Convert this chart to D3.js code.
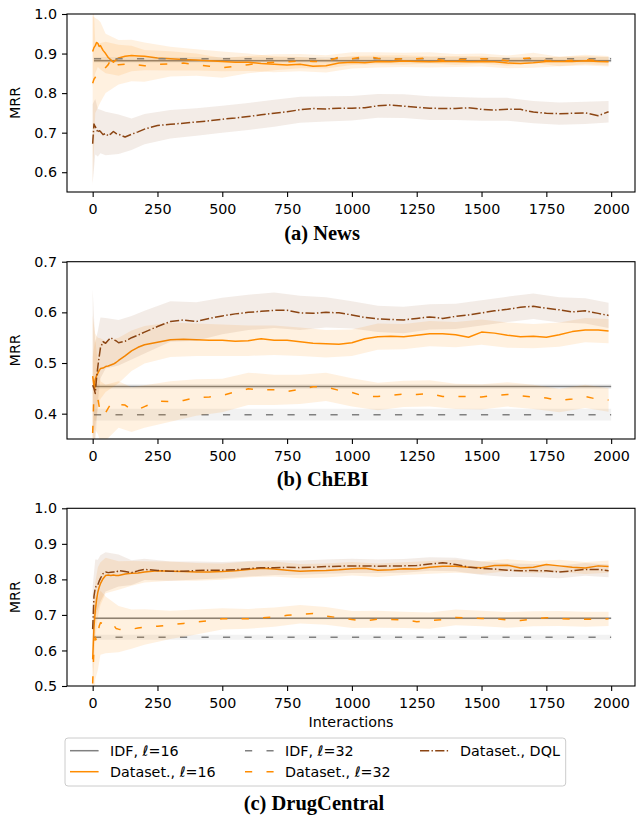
<!DOCTYPE html>
<html><head><meta charset="utf-8">
<script src="https://cdn.jsdelivr.net/npm/d3@7"></script>
<style>html,body{margin:0;padding:0;background:#fff;} svg{display:block;}</style>
</head><body>
<svg id="chart" width="637" height="818"></svg>
<script>
// ---------- DATA ----------
const interactions = [0,5,10,15,20,25,30,40,50,60,
  70,80,90,100,125,150,175,200,250,300,
  350,400,450,500,550,600,650,700,750,800,
  850,900,950,1000,1050,1100,1150,1200,1250,1300,
  1350,1400,1450,1500,1550,1600,1650,1700,1750,1800,
  1850,1900,1950,1990];
const bandInteractions = [0,10,20,30,50,100,150,200,300,400,
  500,600,700,800,900,1000,1100,1200,1300,1400,
  1500,1600,1700,1800,1900,1990];
const idfRange = [5, 2000];
const xTicks = [0,250,500,750,1000,1250,1500,1750,2000];
const newsTicks = [0.6,0.7,0.8,0.9,1.0];
const chebiTicks = [0.4,0.5,0.6,0.7];
const drugTicks = [0.5,0.6,0.7,0.8,0.9,1.0];
const captions = ["(a) News", "(b) ChEBI", "(c) DrugCentral"];
const legendLabels = ["IDF, ℓ=16", "Dataset., ℓ=16", "IDF, ℓ=32", "Dataset., ℓ=32", "Dataset., DQL"];

// News
const newsIdf = [0.8815, 0.887];          // l=16, l=32
const newsIdfSpread = [0.004, 0.004];
const newsDs16 = [0.905,0.915,0.920,0.928,0.926,0.918,0.920,0.908,0.900,0.890,
  0.884,0.878,0.884,0.889,0.893,0.895,0.894,0.893,0.889,0.887,
  0.885,0.884,0.882,0.880,0.878,0.878,0.875,0.873,0.871,0.873,
  0.868,0.869,0.876,0.878,0.877,0.880,0.879,0.881,0.880,0.879,
  0.880,0.880,0.879,0.880,0.879,0.876,0.875,0.877,0.880,0.880,
  0.880,0.882,0.880,0.879];
const newsDs32 = [0.825,0.835,0.840,0.845,0.843,0.850,0.852,0.857,0.865,0.872,
  0.885,0.870,0.868,0.872,0.873,0.875,0.871,0.869,0.873,0.874,
  0.876,0.872,0.868,0.864,0.868,0.872,0.876,0.878,0.879,0.881,
  0.880,0.879,0.891,0.887,0.893,0.888,0.885,0.887,0.887,0.889,
  0.883,0.885,0.885,0.887,0.886,0.882,0.887,0.889,0.882,0.880,
  0.883,0.885,0.882,0.882];
const newsDql = [0.672,0.722,0.715,0.710,0.700,0.705,0.703,0.695,0.698,0.692,
  0.697,0.703,0.698,0.696,0.689,0.696,0.702,0.709,0.718,0.721,
  0.724,0.727,0.730,0.734,0.737,0.741,0.745,0.749,0.753,0.758,
  0.761,0.760,0.762,0.762,0.763,0.768,0.770,0.767,0.764,0.762,
  0.761,0.761,0.763,0.759,0.757,0.759,0.759,0.752,0.749,0.748,
  0.749,0.750,0.743,0.753];
const newsDs16Spread = [0.09,0.07,0.06,0.06,0.05,0.045,0.04,0.035,0.03,0.027,
  0.025,0.022,0.02,0.018,0.017,0.016,0.015,0.015,0.014,0.014,
  0.013,0.013,0.013,0.012,0.012,0.012];
const newsDs32Spread = [0.26,0.09,0.08,0.075,0.065,0.05,0.045,0.04,0.032,0.028,
  0.025,0.022,0.02,0.018,0.017,0.016,0.015,0.015,0.014,0.014,
  0.013,0.013,0.013,0.012,0.012,0.012];
const newsDqlSpread = [0.1,0.07,0.06,0.055,0.055,0.05,0.04,0.038,0.036,0.035,
  0.034,0.034,0.034,0.033,0.032,0.031,0.03,0.03,0.03,0.029,
  0.029,0.029,0.028,0.028,0.028,0.027];

// ChEBI
const chebiIdf = [0.4535, 0.398];
const chebiIdfSpread = [0.005, 0.0115];
const chebiDs16 = [0.474,0.455,0.468,0.475,0.480,0.485,0.489,0.490,0.493,0.494,
  0.496,0.498,0.501,0.505,0.514,0.524,0.531,0.536,0.541,0.546,
  0.547,0.546,0.545,0.545,0.543,0.544,0.548,0.545,0.545,0.542,
  0.539,0.538,0.537,0.540,0.548,0.552,0.553,0.552,0.555,0.558,
  0.558,0.556,0.551,0.561,0.559,0.555,0.552,0.553,0.551,0.556,
  0.562,0.565,0.565,0.563];
const chebiDs32 = [0.362,0.440,0.458,0.445,0.430,0.415,0.404,0.396,0.402,0.411,
  0.419,0.420,0.415,0.418,0.417,0.408,0.408,0.414,0.425,0.424,
  0.426,0.432,0.433,0.436,0.443,0.449,0.447,0.447,0.444,0.448,
  0.453,0.453,0.446,0.442,0.434,0.434,0.436,0.439,0.438,0.440,
  0.434,0.434,0.434,0.433,0.436,0.438,0.435,0.433,0.431,0.426,
  0.429,0.434,0.428,0.427];
const chebiDql = [0.456,0.450,0.440,0.470,0.493,0.512,0.530,0.542,0.539,0.545,
  0.550,0.546,0.544,0.540,0.543,0.550,0.555,0.561,0.572,0.582,
  0.585,0.582,0.588,0.593,0.597,0.600,0.602,0.604,0.604,0.599,
  0.598,0.600,0.599,0.595,0.590,0.587,0.586,0.585,0.588,0.591,
  0.588,0.592,0.595,0.599,0.603,0.606,0.610,0.612,0.608,0.605,
  0.601,0.603,0.598,0.594];
const chebiDs16Spread = [0.12,0.09,0.07,0.06,0.05,0.045,0.04,0.037,0.034,0.032,
  0.031,0.03,0.029,0.028,0.027,0.026,0.026,0.025,0.025,0.025,
  0.025,0.025,0.024,0.024,0.024,0.024];
const chebiDs32Spread = [0.15,0.09,0.07,0.06,0.055,0.046,0.044,0.042,0.04,0.036,
  0.033,0.032,0.03,0.029,0.028,0.028,0.027,0.026,0.026,0.025,
  0.025,0.024,0.024,0.023,0.023,0.023];
const chebiDqlSpread = [0.19,0.1,0.07,0.06,0.05,0.045,0.043,0.042,0.04,0.038,
  0.036,0.035,0.035,0.034,0.03,0.027,0.026,0.026,0.025,0.025,
  0.025,0.025,0.025,0.025,0.025,0.025];

// DrugCentral
const drugIdf = [0.6904, 0.637];
const drugIdfSpread = [0.003, 0.007];
const drugDs16 = [0.575,0.665,0.712,0.742,0.764,0.778,0.788,0.802,0.811,0.812,
  0.811,0.812,0.811,0.811,0.815,0.817,0.818,0.821,0.824,0.823,
  0.822,0.821,0.821,0.822,0.824,0.828,0.831,0.829,0.826,0.823,
  0.824,0.825,0.827,0.830,0.831,0.826,0.827,0.830,0.829,0.834,
  0.837,0.837,0.834,0.833,0.839,0.840,0.832,0.834,0.842,0.838,
  0.834,0.832,0.838,0.836];
const drugDs32 = [0.507,0.611,0.638,0.626,0.645,0.668,0.678,0.676,0.672,0.675,
  0.676,0.672,0.662,0.660,0.657,0.660,0.663,0.666,0.668,0.672,
  0.676,0.680,0.684,0.689,0.689,0.689,0.692,0.694,0.699,0.702,
  0.704,0.697,0.692,0.687,0.683,0.688,0.687,0.686,0.681,0.684,
  0.687,0.693,0.691,0.690,0.690,0.686,0.684,0.689,0.692,0.690,
  0.688,0.688,0.688,0.689];
const drugDql = [0.660,0.752,0.776,0.782,0.785,0.795,0.803,0.816,0.821,0.819,
  0.820,0.821,0.820,0.825,0.822,0.819,0.824,0.828,0.825,0.823,
  0.823,0.825,0.826,0.826,0.827,0.830,0.833,0.833,0.834,0.833,
  0.834,0.836,0.837,0.838,0.838,0.837,0.838,0.838,0.839,0.843,
  0.847,0.842,0.835,0.831,0.829,0.826,0.824,0.825,0.824,0.821,
  0.824,0.828,0.828,0.824];
const drugDs16Spread = [0.1,0.08,0.07,0.06,0.05,0.04,0.035,0.03,0.027,0.025,
  0.023,0.022,0.021,0.02,0.02,0.019,0.019,0.018,0.018,0.018,
  0.018,0.017,0.017,0.017,0.017,0.017];
const drugDs32Spread = [0.15,0.12,0.1,0.09,0.08,0.065,0.055,0.05,0.04,0.035,
  0.03,0.028,0.027,0.026,0.025,0.024,0.024,0.023,0.023,0.022,
  0.022,0.022,0.021,0.021,0.021,0.02];
const drugDqlSpread = [0.12,0.08,0.07,0.065,0.055,0.045,0.035,0.03,0.027,0.025,
  0.023,0.022,0.021,0.02,0.02,0.02,0.019,0.019,0.019,0.019,
  0.019,0.019,0.018,0.018,0.018,0.018];

// ---------- STYLE / LAYOUT ----------
const FONT = "'DejaVu Sans', sans-serif";
const FS = 14.3;
const styles = {
  idf16: {color: "#808080", dash: null, fillOp: 0.1},
  ds16:  {color: "#ff8c00", dash: null, fillOp: 0.12},
  idf32: {color: "#808080", dash: "7.2,14.3", fillOp: 0.1},
  ds32:  {color: "#ff8c00", dash: "7.2,14.3", fillOp: 0.12},
  dql:   {color: "#8b4513", dash: "9.2,2.3,1.4,2.3", fillOp: 0.1}
};
const legendKeys = ["idf16", "ds16", "idf32", "ds32", "dql"];
const LEFT = 67, RIGHT = 635;
const xDomain = [-99, 2092];

const panels = [
  {top: 14, bottom: 192, yDomain: [0.55, 1.0], ticks: newsTicks, caption: captions[0], capX: 322, capY: 240,
   idf: newsIdf, idfS: newsIdfSpread, ds16: newsDs16, ds32: newsDs32, dql: newsDql,
   ds16S: newsDs16Spread, ds32S: newsDs32Spread, dqlS: newsDqlSpread},
  {top: 261.7, bottom: 439, yDomain: [0.35, 0.7], ticks: chebiTicks, caption: captions[1], capX: 322.6, capY: 486,
   idf: chebiIdf, idfS: chebiIdfSpread, ds16: chebiDs16, ds32: chebiDs32, dql: chebiDql,
   ds16S: chebiDs16Spread, ds32S: chebiDs32Spread, dqlS: chebiDqlSpread},
  {top: 508.3, bottom: 686, yDomain: [0.5, 1.0], ticks: drugTicks, caption: captions[2], capX: 314, capY: 810,
   idf: drugIdf, idfS: drugIdfSpread, ds16: drugDs16, ds32: drugDs32, dql: drugDql,
   ds16S: drugDs16Spread, ds32S: drugDs32Spread, dqlS: drugDqlSpread, xlabel: "Interactions"}
];

const svg = d3.select("#chart");
svg.append("rect").attr("width", 637).attr("height", 818).attr("fill", "#fff");

panels.forEach((p, pi) => {
  const x = d3.scaleLinear().domain(xDomain).range([LEFT, RIGHT]);
  const y = d3.scaleLinear().domain(p.yDomain).range([p.bottom, p.top]);
  const g = svg.append("g");
  const clipId = "clip" + pi;
  g.append("clipPath").attr("id", clipId).append("rect")
    .attr("x", LEFT).attr("y", p.top).attr("width", RIGHT - LEFT).attr("height", p.bottom - p.top);
  const plot = g.append("g").attr("clip-path", `url(#${clipId})`);

  const area = d3.area().x(d => x(d.i)).y0(d => y(d.v - d.s)).y1(d => y(d.v + d.s));
  const line = d3.line().x(d => x(d.i)).y(d => y(d.v));

  function drawIdf(key, v, s) {
    const st = styles[key];
    const pts = idfRange.map(i => ({i, v, s}));
    plot.append("path").attr("d", area(pts)).attr("fill", st.color).attr("fill-opacity", st.fillOp);
    plot.append("path").attr("d", line(pts)).attr("fill", "none").attr("stroke", st.color)
      .attr("stroke-width", 1.5).attr("stroke-dasharray", st.dash);
  }
  function drawDs(key, vals, spreads) {
    const st = styles[key];
    const bpts = bandInteractions.map((i, k) => ({i, v: vals[interactions.indexOf(i)], s: spreads[k]}));
    plot.append("path").attr("d", area(bpts)).attr("fill", st.color).attr("fill-opacity", st.fillOp);
    const pts = interactions.map((i, k) => ({i, v: vals[k]}));
    plot.append("path").attr("d", line(pts)).attr("fill", "none").attr("stroke", st.color)
      .attr("stroke-width", 1.5).attr("stroke-dasharray", st.dash).attr("stroke-linejoin", "round");
  }
  drawIdf("idf16", p.idf[0], p.idfS[0]);
  drawDs("ds16", p.ds16, p.ds16S);
  drawIdf("idf32", p.idf[1], p.idfS[1]);
  drawDs("ds32", p.ds32, p.ds32S);
  drawDs("dql", p.dql, p.dqlS);

  // axes
  const xa = g.append("g").attr("transform", `translate(0,${p.bottom})`)
    .call(d3.axisBottom(x).tickValues(xTicks).tickSize(5).tickPadding(6.6).tickFormat(d3.format("d")));
  const ya = g.append("g").attr("transform", `translate(${LEFT},0)`)
    .call(d3.axisLeft(y).tickValues(p.ticks).tickSize(5).tickPadding(5).tickFormat(d3.format(".1f")));
  [xa, ya].forEach(a => {
    a.select(".domain").remove();
    a.selectAll(".tick line").attr("stroke", "#000").attr("stroke-width", 1.1);
    a.selectAll(".tick text").attr("font-family", FONT).attr("font-size", FS).attr("fill", "#000");
  });
  g.append("rect").attr("x", LEFT).attr("y", p.top).attr("width", RIGHT - LEFT).attr("height", p.bottom - p.top)
    .attr("fill", "none").attr("stroke", "#000").attr("stroke-width", 1.1);

  g.append("text").attr("transform", `translate(20.3,${(p.top + p.bottom) / 2}) rotate(-90)`)
    .attr("text-anchor", "middle").attr("font-family", FONT).attr("font-size", FS).attr("fill", "#000").text("MRR");
  if (p.xlabel) {
    g.append("text").attr("x", (LEFT + RIGHT) / 2).attr("y", 726.5).attr("text-anchor", "middle")
      .attr("font-family", FONT).attr("font-size", FS).attr("fill", "#000").text(p.xlabel);
  }
  svg.append("text").attr("x", p.capX).attr("y", p.capY).attr("text-anchor", "middle")
    .attr("font-family", "'Liberation Serif', serif").attr("font-weight", "bold").attr("font-size", 20.5)
    .attr("fill", "#000").text(p.caption);
});

// legend
const lg = svg.append("g");
lg.append("rect").attr("x", 65).attr("y", 738).attr("width", 500.7).attr("height", 48)
  .attr("rx", 3).attr("fill", "#fff").attr("fill-opacity", 0.8).attr("stroke", "#cccccc").attr("stroke-width", 1);
const colX = [70, 245, 420], rowY = [750.7, 771.7];
legendLabels.forEach((lab, k) => {
  const st = styles[legendKeys[k]];
  const cx = colX[Math.floor(k / 2)], cy = rowY[k % 2];
  lg.append("line").attr("x1", cx).attr("x2", cx + 28.6).attr("y1", cy).attr("y2", cy)
    .attr("stroke", st.color).attr("stroke-width", 1.5).attr("stroke-dasharray", st.dash);
  const t = lg.append("text").attr("x", cx + 40).attr("y", cy + 5).attr("font-family", FONT)
    .attr("font-size", FS).attr("fill", "#000");
  const parts = lab.split("ℓ");
  parts.forEach((part, j) => {
    if (j > 0) t.append("tspan").attr("font-style", "italic").text("ℓ");
    t.append("tspan").text(part);
  });
});
</script>
</body></html>
